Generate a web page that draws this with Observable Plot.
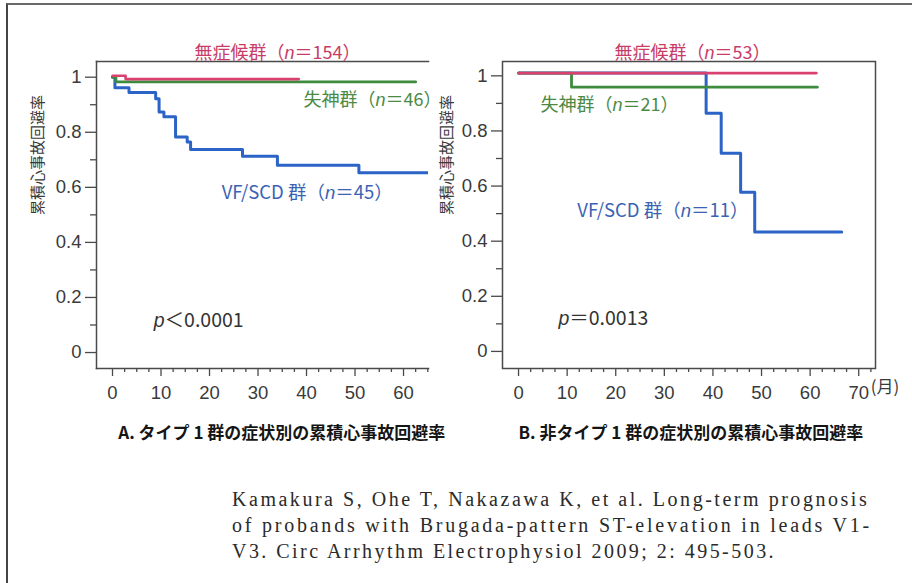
<!DOCTYPE html>
<html>
<head>
<meta charset="utf-8">
<script src="https://cdn.jsdelivr.net/npm/d3@7"></script>
<script src="https://cdn.jsdelivr.net/npm/@observablehq/plot@0.6"></script>
<style>
html,body{margin:0;padding:0;background:#fff;}
#page{position:relative;width:912px;height:583px;overflow:hidden;background:#fff;}
#border{position:absolute;left:6px;top:3px;width:940px;height:620px;border-top:2px solid #6a6a6a;border-left:2px solid #444;}
#panelA{position:absolute;left:0;top:0;width:440px;height:470px;}
#panelB{position:absolute;left:440px;top:0;width:472px;height:470px;}
#cite{position:absolute;left:232px;top:486px;font-family:"Liberation Serif","DejaVu Serif",serif;font-size:20px;line-height:26px;color:#2a2a2a;white-space:pre;}
#cite div{height:26px;}
svg{overflow:visible;max-width:none !important;}
</style>
</head>
<body>
<div id="page">
  <div id="border"></div>
  <div id="panelA"></div>
  <div id="panelB"></div>
  <div id="cite"></div>
</div>
<script>
// ---------- data ----------
// Panel A: type 1 group
const monthsA_asym = [0, 2.7, 38.4];
const survA_asym   = [1.005, 0.993, 0.993];
const monthsA_syn  = [0, 0.7, 62.5];
const survA_syn    = [1.0, 0.983, 0.983];
const monthsA_vf   = [0, 0.5, 3.4, 8.9, 9.6, 10.6, 13.0, 15.4, 16.1, 26.8, 34.0, 50.8, 66];
const survA_vf     = [1.0, 0.962, 0.944, 0.922, 0.874, 0.856, 0.783, 0.765, 0.737, 0.713, 0.68, 0.653, 0.653];

// Panel B: non-type 1 group
const monthsB_asym = [0, 61.3];
const survB_asym   = [1.01, 1.01];
const monthsB_syn  = [0, 10.9, 61.5];
const survB_syn    = [1.01, 0.959, 0.959];
const monthsB_vf   = [0, 38.6, 41.7, 45.7, 48.6, 66.5];
const survB_vf     = [1.01, 0.864, 0.719, 0.578, 0.433, 0.433];

// ticks
const yMajorTicks = [0, 0.2, 0.4, 0.6, 0.8, 1];
const yMinorTicks = [0.1, 0.3, 0.5, 0.7, 0.9];
const xMajorTicksA = [0, 10, 20, 30, 40, 50, 60];
const xMajorTicksB = [0, 10, 20, 30, 40, 50, 60, 70];
const xMinorTicks = [2.5, 5, 7.5, 12.5, 15, 17.5, 22.5, 25, 27.5, 32.5, 35, 37.5, 42.5, 45, 47.5, 52.5, 55, 57.5, 62.5, 65, 67.5, 72.5];

// texts
const yLabel = "累積心事故回避率";
const titleA = "無症候群（n＝154）";
const titleB = "無症候群（n＝53）";
const synLabelA = "失神群（n＝46）";
const synLabelB = "失神群（n＝21）";
const vfLabelA = "VF/SCD 群（n＝45）";
const vfLabelB = "VF/SCD 群（n＝11）";
const pLabelA = "p＜0.0001";
const pLabelB = "p＝0.0013";
const captionA = "A. タイプ 1 群の症状別の累積心事故回避率";
const captionB = "B. 非タイプ 1 群の症状別の累積心事故回避率";
const monthUnit = "(月)";
const citation = [
  "Kamakura S, Ohe T, Nakazawa K, et al. Long-term prognosis",
  "of probands with Brugada-pattern ST-elevation in leads V1-",
  "V3. Circ Arrhythm Electrophysiol 2009; 2: 495-503."
];
const citationWidths = [637, 640, 544];

// ---------- helpers ----------
const rows = (ts, ss) => ts.map((t, i) => ({t, s: ss[i]}));
const PINK = "#d9416f", PINK_T = "#c83c67";
const GREEN = "#3d8b3d", GREEN_T = "#4a8a45";
const BLUE = "#2b63c6", BLUE_T = "#3b62b3";
const AX = "#4a4a4a";
const fontNum = "'Liberation Sans', Arial, Helvetica, sans-serif";
const fontJP = "'Noto Sans CJK JP', 'Noto Sans', sans-serif";

function italicize(svg) {
  svg.querySelectorAll("text").forEach(t => {
    if (t.querySelector("tspan")) return;
    const s = t.textContent;
    const m = s.match(/^(.*?)([np])([＝＜].*)$/);
    if (!m) return;
    t.textContent = "";
    const ns = "http://www.w3.org/2000/svg";
    [[m[1], false], [m[2], true], [m[3], false]].forEach(([str, it]) => {
      if (!str) return;
      const sp = document.createElementNS(ns, "tspan");
      sp.textContent = str;
      if (it) { sp.setAttribute("font-style", "italic"); sp.setAttribute("font-family", fontNum); }
      t.appendChild(sp);
    });
  });
}

function makePanel(cfg) {
  const marks = [];
  (cfg.frameAnchors || [null]).forEach(a =>
    marks.push(Plot.frame(a ? {anchor: a, stroke: AX, strokeWidth: 1.5} : {stroke: AX, strokeWidth: 1.5})));
  marks.push(
    Plot.axisY({ticks: yMajorTicks, tickSize: 11, tickPadding: 4, label: null, stroke: AX, strokeWidth: 1.3,
      tickFormat: d => String(d), fill: "#3a3a3a"}),
    Plot.axisY({ticks: yMinorTicks, tickSize: 6, label: null, stroke: AX, strokeWidth: 1.3,
      tickFormat: () => ""}),
    Plot.axisX({ticks: cfg.xMajor, tickSize: 8, tickPadding: 9, label: null, stroke: AX, strokeWidth: 1.3,
      tickFormat: d => String(d), fill: "#3a3a3a"}),
    Plot.axisX({ticks: cfg.xMinor, tickSize: 4, label: null, stroke: AX, strokeWidth: 1.3,
      tickFormat: () => ""}),
    Plot.line(cfg.vf, {x: "t", y: "s", curve: "step-after", stroke: BLUE, strokeWidth: 3, clip: true}),
    Plot.line(cfg.syn, {x: "t", y: "s", curve: "step-after", stroke: GREEN, strokeWidth: 2.8, clip: true}),
    Plot.line(cfg.asym, {x: "t", y: "s", curve: "step-after", stroke: PINK, strokeWidth: 2.6, clip: true}),
    Plot.text([yLabel], {frameAnchor: "left", rotate: -90, dx: cfg.yLabelDx, text: d => d,
      fontFamily: fontJP, fontSize: 15, fill: "#3a3a3a"}),
    Plot.text([cfg.title], {x: cfg.titleX, frameAnchor: "top", dy: -15, text: d => d,
      fontFamily: fontJP, fontSize: 18, fill: PINK_T}),
    Plot.text([cfg.synLabel], {x: cfg.synPos[0], y: cfg.synPos[1], textAnchor: "start", text: d => d,
      fontFamily: fontJP, fontSize: 18, fill: GREEN_T}),
    Plot.text([cfg.vfLabel], {x: cfg.vfPos[0], y: cfg.vfPos[1], textAnchor: "start", text: d => d,
      fontFamily: fontJP, fontSize: 18.5, fill: BLUE_T}),
    Plot.text([cfg.pLabel], {x: cfg.pPos[0], y: cfg.pPos[1], textAnchor: "start", text: d => d,
      fontFamily: fontJP, fontSize: 19.5, fill: "#333"}),
    Plot.text([cfg.caption], {x: cfg.captionX, frameAnchor: "bottom", dy: 70, textAnchor: "start", text: d => d,
      fontFamily: fontJP, fontSize: 17, fontWeight: "bold", fill: "#151515"})
  );
  if (cfg.unit) marks.push(Plot.text([cfg.unit], {x: 70, frameAnchor: "bottom", dy: 24, dx: 12, textAnchor: "start",
      text: d => d, fontFamily: fontJP, fontSize: 17, fill: "#3a3a3a"}));
  const svg = Plot.plot({
    width: cfg.width, height: 470,
    marginLeft: cfg.ml, marginRight: cfg.mr, marginTop: 61, marginBottom: 102,
    x: {domain: cfg.xDomain},
    y: {domain: cfg.yDomain},
    style: {fontFamily: fontNum, fontSize: "18.5px", color: "#3a3a3a", background: "transparent", overflow: "visible", maxWidth: "none"},
    marks
  });
  svg.style.maxWidth = "none";
  italicize(svg);
  return svg;
}

document.getElementById("panelA").appendChild(makePanel({
  width: 440, ml: 96, mr: 12,
  xDomain: [-3.3, 65.15], yDomain: [-0.058, 1.057],
  frameAnchors: ["top", "left", "bottom"],
  xMajor: xMajorTicksA, xMinor: xMinorTicks.filter(d => d <= 65),
  asym: rows(monthsA_asym, survA_asym), syn: rows(monthsA_syn, survA_syn), vf: rows(monthsA_vf, survA_vf),
  yLabelDx: -58,
  title: titleA, titleX: 34,
  synLabel: synLabelA, synPos: [39.4, 0.915],
  vfLabel: vfLabelA, vfPos: [22.5, 0.578],
  pLabel: pLabelA, pPos: [8.5, 0.116],
  caption: captionA, captionX: 1.2
}));

document.getElementById("panelB").appendChild(makePanel({
  width: 472, ml: 62, mr: 37,
  xDomain: [-3.3, 73.45], yDomain: [-0.062, 1.052],
  frameAnchors: null,
  xMajor: xMajorTicksB, xMinor: xMinorTicks,
  asym: rows(monthsB_asym, survB_asym), syn: rows(monthsB_syn, survB_syn), vf: rows(monthsB_vf, survB_vf),
  yLabelDx: -55,
  title: titleB, titleX: 35.8,
  synLabel: synLabelB, synPos: [4.5, 0.892],
  vfLabel: vfLabelB, vfPos: [12.1, 0.511],
  pLabel: pLabelB, pPos: [8.2, 0.12],
  caption: captionB, captionX: 0,
  unit: monthUnit
}));

// citation: serif text, letter-spacing fitted to the reference line widths
const cite = document.getElementById("cite");
citation.forEach((line, i) => {
  const d = document.createElement("div");
  const s = document.createElement("span");
  s.textContent = line;
  d.appendChild(s);
  cite.appendChild(d);
  const w = s.getBoundingClientRect().width;
  const ls = (citationWidths[i] - w) / line.length;
  s.style.letterSpacing = ls.toFixed(2) + "px";
});
</script>
</body>
</html>
